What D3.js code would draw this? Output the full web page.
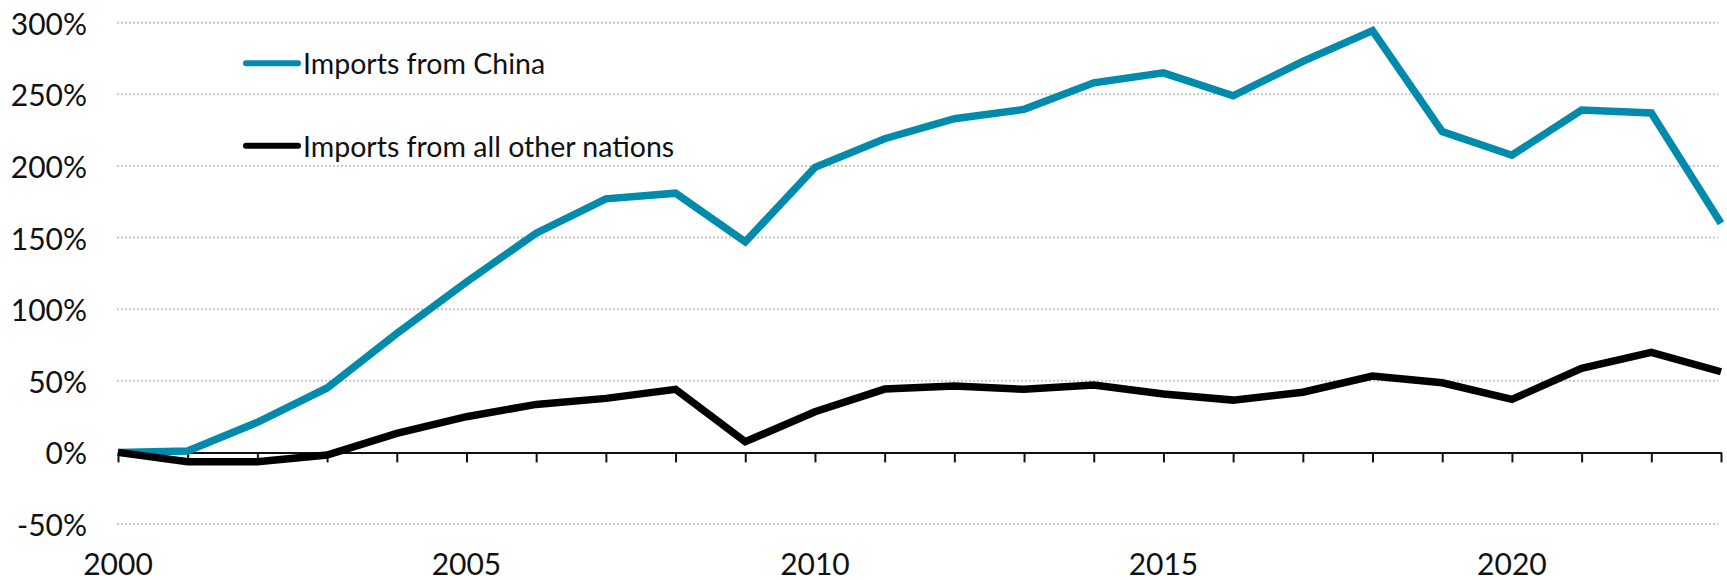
<!DOCTYPE html>
<html>
<head>
<meta charset="utf-8">
<script src="https://cdn.jsdelivr.net/npm/d3@7"></script>
<style>
  html, body { margin: 0; padding: 0; background: #fff; }
  svg { display: block; }
  text { font-family: Lato, "Open Sans", sans-serif; fill: #111; }
</style>
</head>
<body>
<svg id="chart" width="1727" height="580"></svg>
<script>
const years = [2000,2001,2002,2003,2004,2005,2006,2007,2008,2009,2010,2011,2012,2013,2014,2015,2016,2017,2018,2019,2020,2021,2022,2023];
const chinaValues = [0,1,21,45,83,119,153,177,181,147,199,219,233,239.5,258,265,249,273,294.5,224,207.5,239,237,160];
const otherValues = [0,-6.6,-6.6,-1.9,13.3,24.9,33.5,37.7,44,7.4,28.4,44.2,46.3,44,47,40.7,36.5,42,53.3,48.6,37,58.7,69.8,56.3];
const yTicks = [-50,0,50,100,150,200,250,300];
const xLabelYears = [2000,2005,2010,2015,2020];
const seriesNames = ["Imports from China","Imports from all other nations"];
const seriesColors = ["#008bad","#000000"];

const svg = d3.select("#chart");
const plotLeft = 118, plotRight = 1721, plotTop = 22.7, plotBottom = 524;

const x = d3.scaleLinear().domain([2000, 2023]).range([plotLeft, plotRight]);
const y = d3.scaleLinear().domain([-50, 300]).range([plotBottom, plotTop]);

// gridlines (dotted)
svg.append("g").selectAll("line")
  .data(yTicks.filter(d => d !== 0))
  .join("line")
  .attr("x1", plotLeft - 1).attr("x2", plotRight - 3)
  .attr("y1", d => y(d)).attr("y2", d => y(d))
  .attr("stroke", "#c6c6c6").attr("stroke-width", 2)
  .attr("stroke-dasharray", "2,2");

// y tick labels
svg.append("g").selectAll("text")
  .data(yTicks)
  .join("text")
  .attr("x", 87).attr("y", d => y(d))
  .attr("text-anchor", "end")
  .attr("dominant-baseline", "central")
  .style("font-size", "30px")
  .text(d => d + "%");

// x axis at zero, with a tick every year
const xAxis = d3.axisBottom(x)
  .tickValues(years)
  .tickSize(10)
  .tickSizeOuter(0)
  .tickFormat("");
const gx = svg.append("g").attr("transform", `translate(0,${y(0)})`).call(xAxis);
gx.select(".domain").attr("stroke", "#111").attr("stroke-width", 2);
gx.selectAll(".tick line").attr("stroke", "#111").attr("stroke-width", 2);

// x labels at bottom
svg.append("g").selectAll("text")
  .data(xLabelYears)
  .join("text")
  .attr("x", d => x(d)).attr("y", 575)
  .attr("text-anchor", "middle")
  .style("font-size", "30px")
  .text(d => d);

// lines
const line = d3.line().x((d, i) => x(years[i])).y(d => y(d));
[chinaValues, otherValues].forEach((vals, k) => {
  svg.append("path")
    .datum(vals)
    .attr("d", line)
    .attr("fill", "none")
    .attr("stroke", seriesColors[k])
    .attr("stroke-width", 7.5)
    .attr("stroke-linejoin", "miter");
});

// legend
const legendY = [63.3, 145.7];
const lg = svg.append("g");
seriesNames.forEach((name, k) => {
  lg.append("line")
    .attr("x1", 246).attr("x2", 298)
    .attr("y1", legendY[k]).attr("y2", legendY[k])
    .attr("stroke", seriesColors[k]).attr("stroke-width", 6)
    .attr("stroke-linecap", "round");
  lg.append("text")
    .attr("x", 303).attr("y", legendY[k])
    .attr("dominant-baseline", "central")
    .style("font-size", "28.5px")
    .text(name);
});
</script>
</body>
</html>
